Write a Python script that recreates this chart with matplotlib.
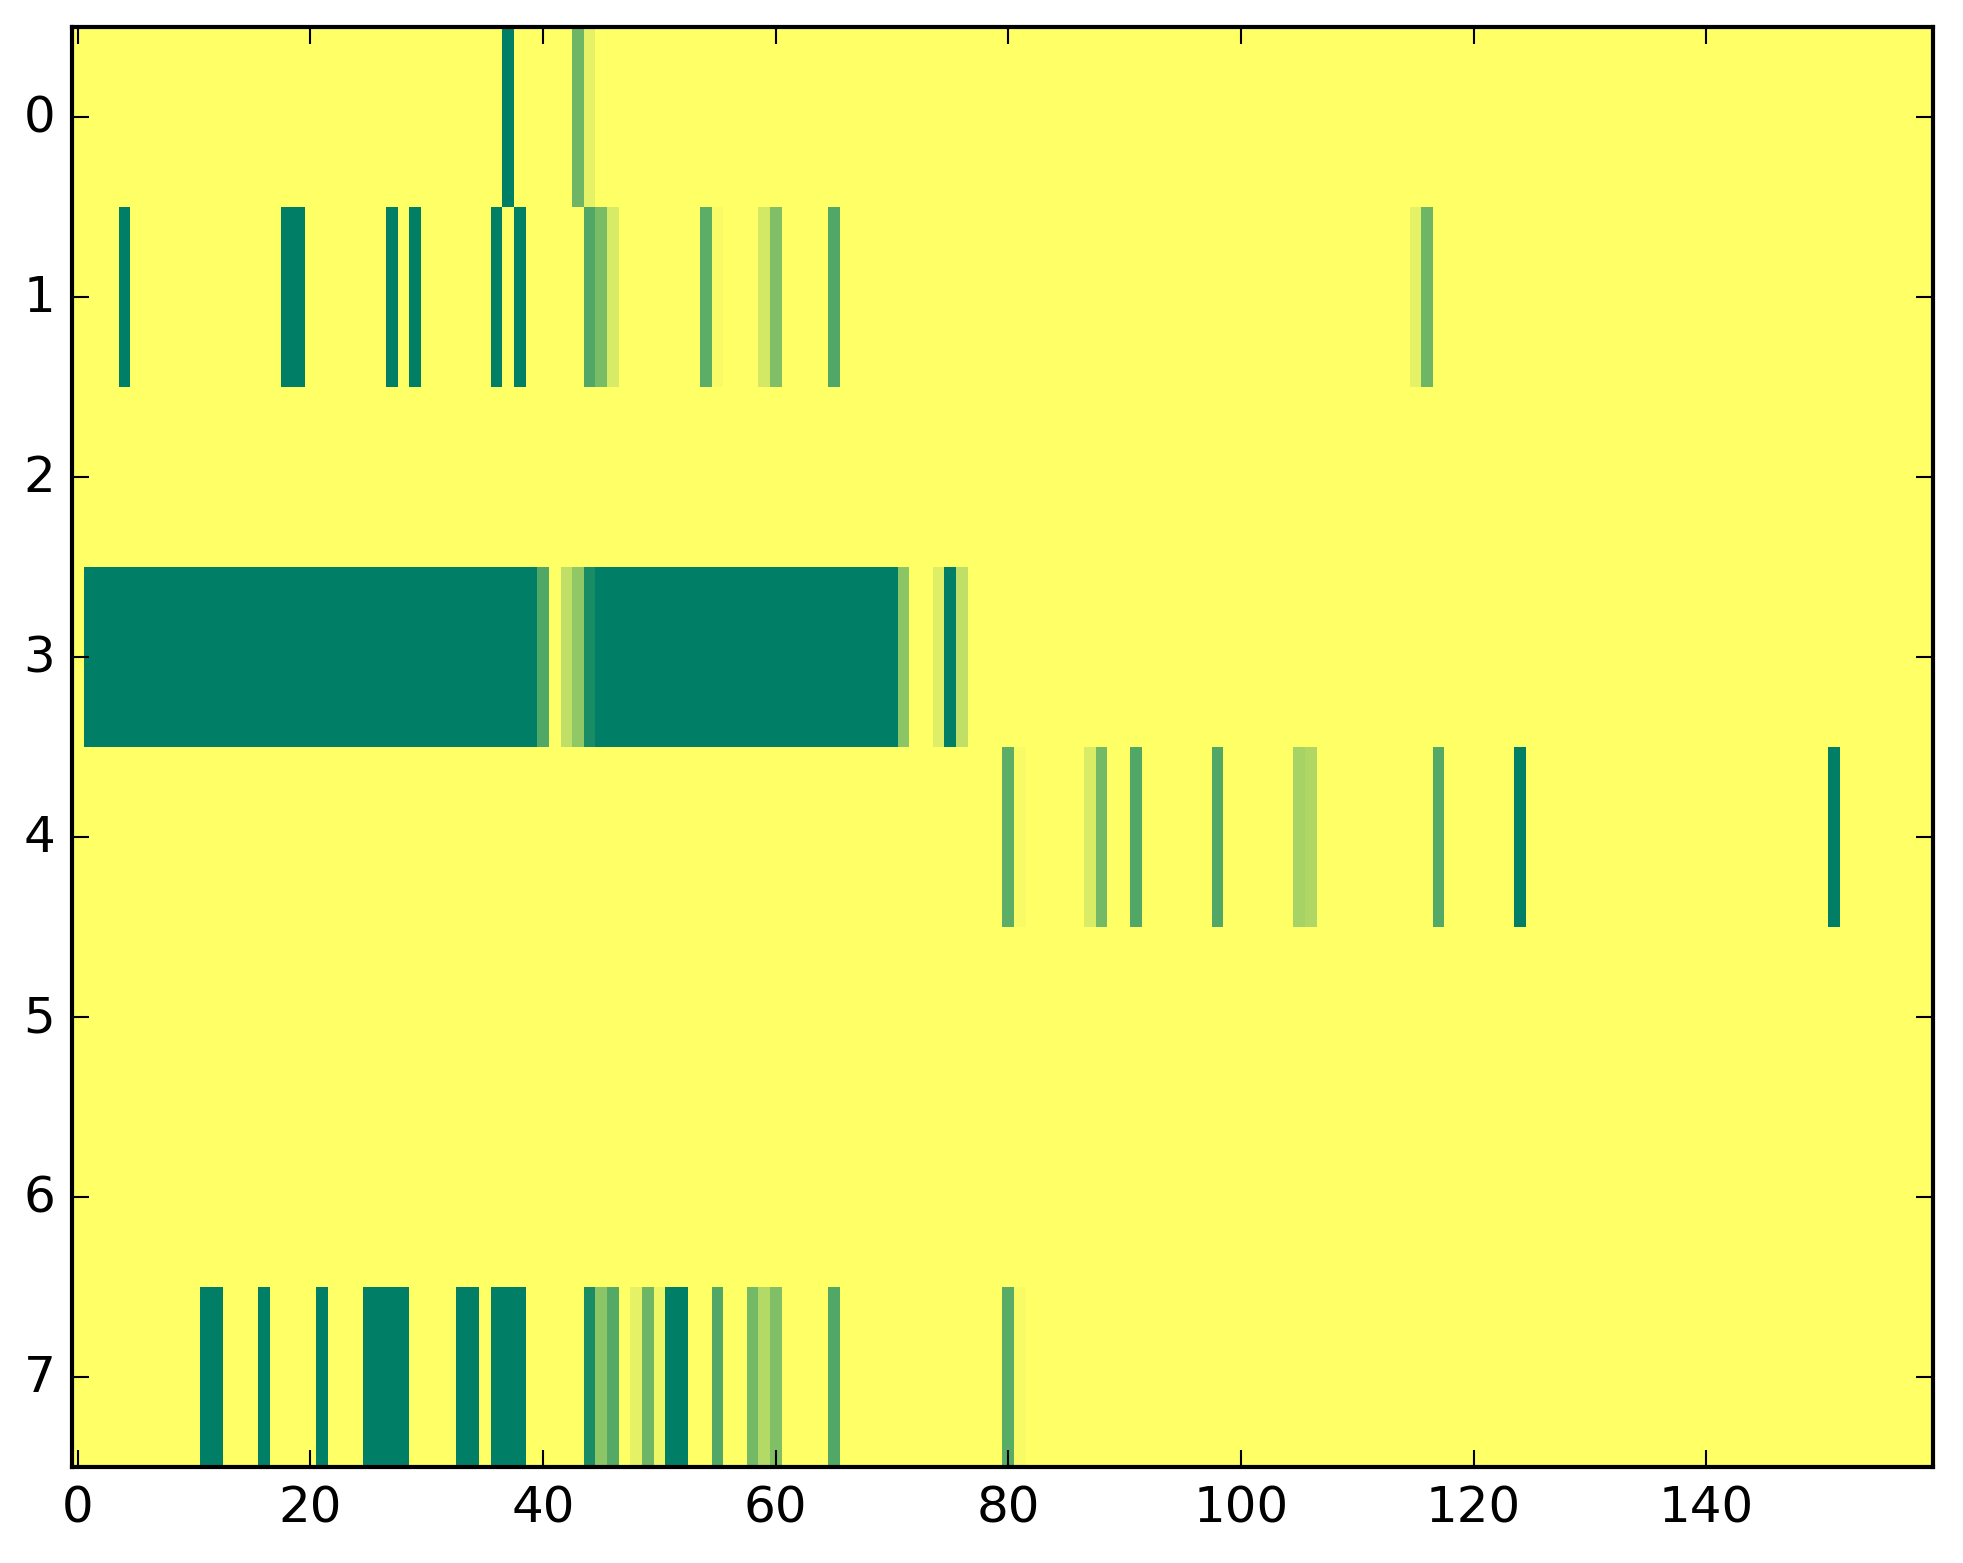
import numpy as np
import matplotlib
matplotlib.use("Agg")
import matplotlib.pyplot as plt

n_rows = 8
n_cols = 160

# (column, value) for every non-yellow cell; everything else is 1.0
row0 = [(37, 0.0), (43, 0.43), (44, 0.9)]
row1 = [(4, 0.0), (18, 0.0), (19, 0.0), (27, 0.0), (29, 0.0), (36, 0.0), (38, 0.0),
        (44, 0.32), (45, 0.48), (46, 0.84), (54, 0.36), (55, 0.97),
        (59, 0.83), (60, 0.5), (65, 0.32), (115, 0.9), (116, 0.43)]
row2 = []
row3 = [(c, 0.0) for c in range(1, 40)] + \
       [(40, 0.32), (42, 0.75), (43, 0.57), (44, 0.1)] + \
       [(c, 0.0) for c in range(45, 71)] + \
       [(71, 0.55), (74, 0.87), (75, 0.0), (76, 0.75)]
row4 = [(80, 0.36), (81, 0.97), (87, 0.85), (88, 0.45), (91, 0.32), (98, 0.32),
        (105, 0.65), (106, 0.69), (117, 0.33), (124, 0.0), (151, 0.0)]
row5 = []
row6 = []
row7 = [(11, 0.0), (12, 0.0), (16, 0.0), (21, 0.0), (25, 0.0), (26, 0.0), (27, 0.0),
        (28, 0.0), (33, 0.0), (34, 0.0), (36, 0.0), (37, 0.0), (38, 0.0),
        (44, 0.1), (45, 0.55), (46, 0.33), (48, 0.9), (49, 0.43), (50, 0.93),
        (51, 0.0), (52, 0.0), (55, 0.32), (58, 0.45), (59, 0.7), (60, 0.5),
        (65, 0.32), (80, 0.35), (81, 0.97)]

rows = [row0, row1, row2, row3, row4, row5, row6, row7]
grid = np.ones((n_rows, n_cols))
for r, cells in enumerate(rows):
    for c, v in cells:
        grid[r, c] = v

plt.style.use('classic')
fig = plt.figure(figsize=(1963 / 300, 1564 / 300), dpi=300)
ax = fig.add_axes([0.0367, 0.0614, 0.948, 0.9206])
ax.imshow(grid, cmap='summer', vmin=0, vmax=1, interpolation='nearest', aspect='auto')
ax.set_xlim(-0.5, n_cols - 0.5)
ax.set_ylim(n_rows - 0.5, -0.5)
fig.savefig('out.png', dpi=300)
